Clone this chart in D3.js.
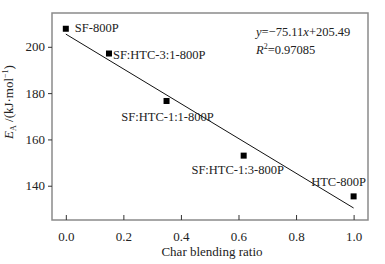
<!DOCTYPE html>
<html>
<head>
<meta charset="utf-8">
<script src="https://cdn.jsdelivr.net/npm/d3@7"></script>
<style>
  body { margin: 0; background: #fff; }
  text { font-family: "Liberation Serif", "Times New Roman", serif; fill: #222; }
</style>
</head>
<body>
<script>
// data
var samples = ["SF-800P", "SF:HTC-3:1-800P", "SF:HTC-1:1-800P", "SF:HTC-1:3-800P", "HTC-800P"];
var ratio = [0, 0.15, 0.35, 0.618, 1.0];
var ea = [207.8, 197.1, 176.6, 153.0, 135.4];
var fitSlope = -75.11, fitIntercept = 205.49, fitR2 = "0.97085";
var xTicks = [0, 0.2, 0.4, 0.6, 0.8, 1.0];
var yTicks = [140, 160, 180, 200];

// label placement (dx, dy from the point, anchor)
var labelPos = [
  { dx: 9, dy: 3, anchor: "start" },
  { dx: 4, dy: 5, anchor: "start" },
  { dx: 1, dy: 20, anchor: "middle" },
  { dx: -6, dy: 18, anchor: "middle" },
  { dx: -15, dy: -10, anchor: "middle" }
];

var serif = "Liberation Serif, Times New Roman, serif";

var svg = d3.select('body').append('svg')
  .attr('width', 385)
  .attr('height', 264);

var margin = { top: 13, right: 17, bottom: 44, left: 52 },
  width = +svg.attr("width") - margin.left - margin.right,
  height = +svg.attr("height") - margin.top - margin.bottom,
  g = svg.append("g").attr("transform", "translate(" + margin.left + "," + margin.top + ")");

var x = d3.scaleLinear().domain([-0.048, 1.05]).range([0, width]);
var y = d3.scaleLinear().domain([125.2, 214.6]).range([height, 0]);

var data = samples.map(function (s, i) { return { name: s, x: ratio[i], y: ea[i], pos: labelPos[i] }; });

// frame
g.append("rect")
  .attr("width", width)
  .attr("height", height)
  .attr("fill", "none")
  .attr("stroke", "#8a8a8a")
  .attr("stroke-width", 1.5);

// x axis, ticks pointing in
var xAxis = g.append("g")
  .attr("transform", "translate(0," + height + ")")
  .call(d3.axisBottom(x).tickValues(xTicks).tickSizeInner(-5).tickSizeOuter(0).tickPadding(12)
    .tickFormat(d3.format(".1f")))
  .attr("font-family", serif)
  .attr("font-size", 13);
xAxis.select(".domain").remove();
xAxis.selectAll("line").attr("stroke", "#333");
xAxis.selectAll("text").attr("fill", "#222");

// y axis, ticks pointing out
var yAxis = g.append("g")
  .call(d3.axisLeft(y).tickValues(yTicks).tickSizeInner(4).tickSizeOuter(0).tickPadding(3))
  .attr("font-family", serif)
  .attr("font-size", 13);
yAxis.select(".domain").remove();
yAxis.selectAll("line").attr("stroke", "#333");
yAxis.selectAll("text").attr("fill", "#222");

// fitted line
var line = d3.line()
  .x(function (d) { return x(d) })
  .y(function (d) { return y(fitSlope * d + fitIntercept) });
g.append("path")
  .datum([0, 1])
  .attr("d", line)
  .attr("fill", "none")
  .attr("stroke", "#111")
  .attr("stroke-width", 1);

// points
g.selectAll(".pt")
  .data(data)
  .enter().append("rect")
  .attr("x", function (d) { return x(d.x) - 3 })
  .attr("y", function (d) { return y(d.y) - 3 })
  .attr("width", 6)
  .attr("height", 6)
  .attr("fill", "#000");

g.selectAll(".lbl")
  .data(data)
  .enter().append("text")
  .attr("x", function (d) { return x(d.x) + d.pos.dx })
  .attr("y", function (d) { return y(d.y) + d.pos.dy })
  .style("text-anchor", function (d) { return d.pos.anchor })
  .style("font-size", "12.5px")
  .text(function (d) { return d.name });

// equation
var eq = g.append("text")
  .attr("x", 204)
  .attr("y", 23)
  .style("font-size", "12.5px");
eq.append("tspan").style("font-style", "italic").text("y");
eq.append("tspan").text("=\u221275.11");
eq.append("tspan").style("font-style", "italic").text("x");
eq.append("tspan").text("+205.49");

var r2 = g.append("text")
  .attr("x", 204)
  .attr("y", 41)
  .style("font-size", "12.5px");
r2.append("tspan").style("font-style", "italic").text("R");
r2.append("tspan").attr("dy", -5).style("font-size", "8px").text("2");
r2.append("tspan").attr("dy", 5).text("=" + fitR2);

// axis titles
svg.append("text")
  .attr("x", margin.left + width / 2 + 2)
  .attr("y", 256)
  .style("text-anchor", "middle")
  .style("font-size", "13px")
  .text("Char blending ratio");

var yt = svg.append("text")
  .attr("transform", "translate(13," + (margin.top + 89) + ") rotate(-90)")
  .style("text-anchor", "middle")
  .style("font-size", "13px");
yt.append("tspan").style("font-style", "italic").text("E");
yt.append("tspan").attr("dy", 3).style("font-size", "8px").text("A");
yt.append("tspan").attr("dy", -3).text(" /(kJ\u00b7mol");
yt.append("tspan").attr("dy", -5).style("font-size", "8px").text("\u22121");
yt.append("tspan").attr("dy", 5).text(")");
</script>
</body>
</html>
